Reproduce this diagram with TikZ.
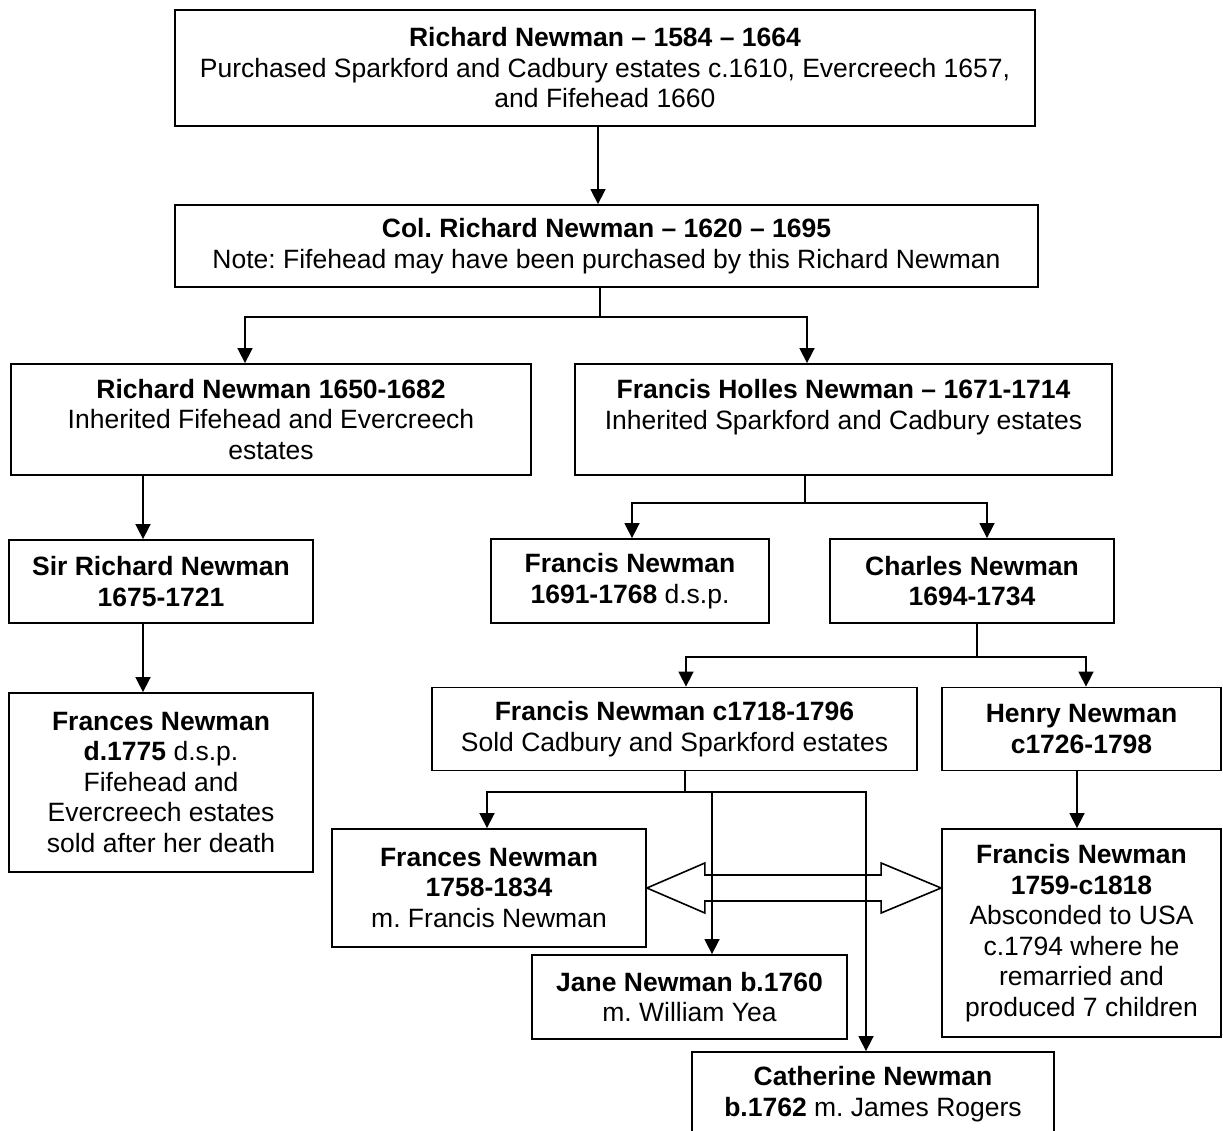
\documentclass[tikz,border=0pt]{standalone}
\usepackage{fontspec}
\setmainfont{Liberation Sans}
\usetikzlibrary{calc, arrows.meta}
\tikzset{>={Triangle[length=15pt, width=15pt]}}
\frenchspacing

\begin{document}
\begin{tikzpicture}[
    x = 1pt, y = -1pt,
    box/.style = {draw, line width = 1.8pt, inner sep = 0pt, align = center,
        font = \fontsize{26.5}{30.5}\selectfont},
    ln/.style = {line width = 1.6pt},
]
\useasboundingbox (0,0) rectangle (1223,1131);

\node[box, minimum width = 860pt, minimum height = 116pt] (top) at (605, 68)
    {\textbf{Richard Newman – 1584 – 1664}\\
     Purchased Sparkford and Cadbury estates c.1610, Evercreech 1657,\\
     and Fifehead 1660};
\node[box, minimum width = 863pt, minimum height = 82pt] (col) at (606.5, 246)
    {\textbf{Col. Richard Newman – 1620 – 1695}\\
     Note: Fifehead may have been purchased by this Richard Newman};

\node[box, minimum width = 520pt, minimum height = 111pt] (rich) at (271, 419.5)
    {\textbf{Richard Newman 1650-1682}\\ Inherited Fifehead and Evercreech\\ estates};
\node[box, minimum width = 537pt, minimum height = 111pt] (holles) at (843.5, 419.5)
    {\textbf{Francis Holles Newman – 1671-1714}\\ Inherited Sparkford and Cadbury estates\\ \mbox{}};

\node[box, minimum width = 304pt, minimum height = 83pt] (sirrich) at (161, 581.5)
    {\textbf{Sir Richard Newman}\\ \textbf{1675-1721}};
\node[box, minimum width = 278pt, minimum height = 84pt] (fran68) at (630, 581)
    {\textbf{Francis Newman}\\ \textbf{1691-1768} d.s.p.};
\node[box, minimum width = 284pt, minimum height = 84pt] (charles) at (972, 581)
    {\textbf{Charles Newman}\\ \textbf{1694-1734}};

\node[box, minimum width = 304pt, minimum height = 179pt] (fran75) at (161, 782.5)
    {\textbf{Frances Newman}\\ \textbf{d.1775} d.s.p.\\ Fifehead and\\
     Evercreech estates\\ sold after her death};
\node[box, minimum width = 485pt, minimum height = 83pt] (fran96) at (674.5, 729)
    {\textbf{Francis Newman c1718-1796}\\ Sold Cadbury and Sparkford estates};
\node[box, minimum width = 279pt, minimum height = 83pt] (henry) at (1081.5, 729)
    {\textbf{Henry Newman}\\ \textbf{c1726-1798}};

\node[box, minimum width = 314pt, minimum height = 118pt] (fran34) at (489, 888)
    {\textbf{Frances Newman}\\ \textbf{1758-1834}\\ m. Francis Newman};
\node[box, minimum width = 279pt, minimum height = 208pt] (fran18) at (1081.5, 933)
    {\textbf{Francis Newman}\\ \textbf{1759-c1818}\\ Absconded to USA\\
     c.1794 where he\\ remarried and\\ produced 7 children};
\node[box, minimum width = 315pt, minimum height = 84pt] (jane) at (689.5, 997)
    {\textbf{Jane Newman b.1760}\\ m. William Yea};
\node[box, minimum width = 362pt, minimum height = 84pt] (cath) at (873, 1094)
    {\textbf{Catherine Newman}\\ \textbf{b.1762} m. James Rogers};

% junctions
\coordinate (kt) at (598, 0);
\coordinate (jc) at (600, 317);
\coordinate (jcl) at (245, 317);
\coordinate (jcr) at (807, 317);
\coordinate (kr) at (143, 0);
\coordinate (jh) at (805, 503);
\coordinate (jhl) at (632, 503);
\coordinate (jhr) at (987, 503);
\coordinate (jch) at (977, 657);
\coordinate (jchl) at (686, 657);
\coordinate (jchr) at (1086, 657);
\coordinate (kh) at (1077, 0);
\coordinate (jf) at (685, 792);
\coordinate (jfl) at (487, 792);
\coordinate (jfm) at (712, 792);
\coordinate (jfr) at (866, 792);

\draw[ln, ->] (kt |- top.south) -- (kt |- col.north);

\draw[ln] (jc |- col.south) -- (jc);
\draw[ln, ->] (jc) -- (jcl) -- (jcl |- rich.north);
\draw[ln, ->] (jc) -- (jcr) -- (jcr |- holles.north);

\draw[ln, ->] (kr |- rich.south) -- (kr |- sirrich.north);
\draw[ln, ->] (kr |- sirrich.south) -- (kr |- fran75.north);

\draw[ln] (jh |- holles.south) -- (jh);
\draw[ln, ->] (jh) -- (jhl) -- (jhl |- fran68.north);
\draw[ln, ->] (jh) -- (jhr) -- (jhr |- charles.north);

\draw[ln] (jch |- charles.south) -- (jch);
\draw[ln, ->] (jch) -- (jchl) -- (jchl |- fran96.north);
\draw[ln, ->] (jch) -- (jchr) -- (jchr |- henry.north);

\draw[ln, ->] (kh |- henry.south) -- (kh |- fran18.north);

\draw[ln] (jf |- fran96.south) -- (jf);
\draw[ln, ->] (jf) -- (jfl) -- (jfl |- fran34.north);
\draw[ln, ->] (jf) -- (jfm) -- (jfm |- jane.north);
\draw[ln, ->] (jfm) -- (jfr) -- (jfr |- cath.north);

% marriage
\draw[ln] (fran34.east) -- ++(58,-25) -- ++(0,12)
    -- ($(fran34.east -| fran18.west)+(-60,-13)$) -- ++(0,-12)
    -- (fran34.east -| fran18.west) -- ++(-60,25) -- ++(0,-12)
    -- ($(fran34.east)+(58,13)$) -- ++(0,12) -- cycle;

\end{tikzpicture}
\end{document}
